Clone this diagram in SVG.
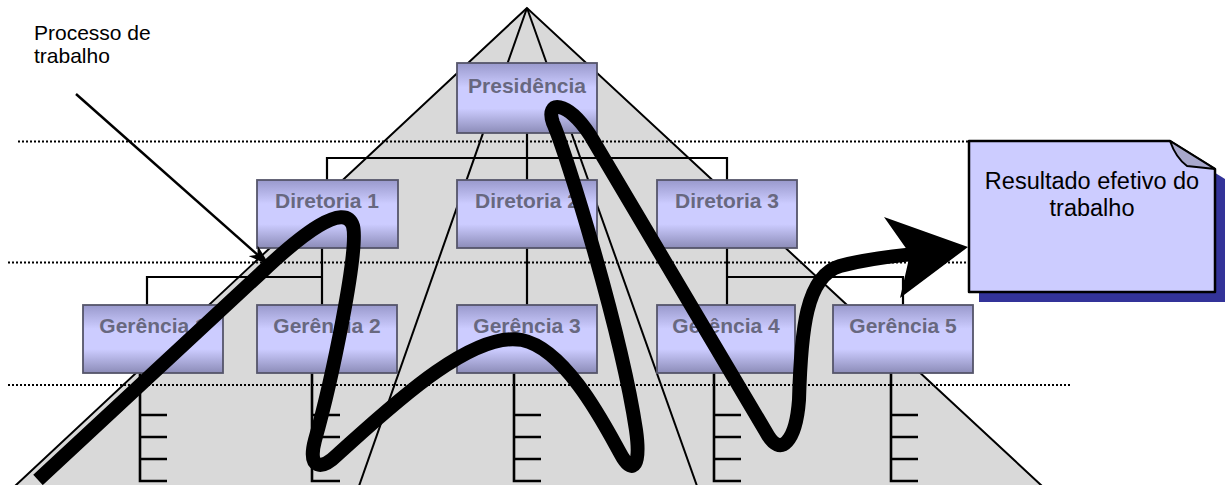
<svg xmlns="http://www.w3.org/2000/svg" width="1225" height="485" viewBox="0 0 1225 485">
  <defs>
    <linearGradient id="boxFill" x1="0" y1="0" x2="0" y2="1">
      <stop offset="0" stop-color="#9999cc"/>
      <stop offset="0.35" stop-color="#ccccff"/>
      <stop offset="0.65" stop-color="#ccccff"/>
      <stop offset="1" stop-color="#8c8cb8"/>
    </linearGradient>
    <marker id="thinHead" viewBox="0 0 22 14" refX="20" refY="7" markerWidth="22" markerHeight="14" markerUnits="userSpaceOnUse" orient="auto">
      <path d="M0,0 L22,7 L0,14 L6,7 Z" fill="#000"/>
    </marker>
    <style>
      .box { fill: url(#boxFill); stroke: #55556a; stroke-width: 1.8; }
      .lbl { font-family: "Liberation Sans", Arial, sans-serif; font-weight: bold; font-size: 21px; fill: #68687f; text-anchor: middle; }
      .conn { fill: none; stroke: #000; stroke-width: 2.2; }
      .comb { fill: none; stroke: #000; stroke-width: 2.6; }
      .dots { fill: none; stroke: #000; stroke-width: 2; stroke-dasharray: 2 2; }
      .note-txt { font-family: "Liberation Sans", Arial, sans-serif; font-size: 23.5px; fill: #000; text-anchor: middle; }
      .caption { font-family: "Liberation Sans", Arial, sans-serif; font-size: 21px; fill: #000; }
    </style>
  </defs>

  <!-- pyramid background with fan lines -->
  <g id="pyramid">
    <polygon points="527,8 15,486 1042,486" fill="#d9d9d9" stroke="#000" stroke-width="2"/>
    <line x1="527" y1="8" x2="359" y2="486" stroke="#000" stroke-width="2"/>
    <line x1="527" y1="8" x2="697" y2="486" stroke="#000" stroke-width="2"/>
  </g>

  <!-- level separators -->
  <g id="levels">
    <line class="dots" x1="18" y1="141.5" x2="969" y2="141.5"/>
    <line class="dots" x1="8" y1="262.5" x2="969" y2="262.5"/>
    <line class="dots" x1="8" y1="385" x2="1072" y2="385"/>
  </g>

  <!-- org chart connectors -->
  <g id="connectors">
    <path class="conn" d="M527,133 V158 M327,180 V158 H727 V180 M527,158 V180"/>
    <path class="conn" d="M322,248 V277 H147 V305 M322,277 V305"/>
    <path class="conn" d="M527,248 V305"/>
    <path class="conn" d="M727,248 V305 M727,277 H903 V305"/>
    <path class="comb" d="M140,373 V481 H167 M140,415 H167 M140,437 H167 M140,459 H167"/>
    <path class="comb" d="M312,373 V481 H340 M312,415 H340 M312,437 H340 M312,459 H340"/>
    <path class="comb" d="M514,373 V481 H541 M514,415 H541 M514,437 H541 M514,459 H541"/>
    <path class="comb" d="M714,373 V481 H741 M714,415 H741 M714,437 H741 M714,459 H741"/>
    <path class="comb" d="M891,373 V481 H918 M891,415 H918 M891,437 H918 M891,459 H918"/>
  </g>

  <g id="presidencia">
    <rect class="box" x="457" y="63" width="140" height="70"/>
    <text class="lbl" x="527" y="93">Presidência</text>
  </g>
  <g id="diretoria1">
    <rect class="box" x="257" y="180" width="141" height="68"/>
    <text class="lbl" x="327" y="208">Diretoria 1</text>
  </g>
  <g id="diretoria2">
    <rect class="box" x="457" y="180" width="140" height="68"/>
    <text class="lbl" x="527" y="208">Diretoria 2</text>
  </g>
  <g id="diretoria3">
    <rect class="box" x="657" y="180" width="140" height="68"/>
    <text class="lbl" x="727" y="208">Diretoria 3</text>
  </g>
  <g id="gerencia1">
    <rect class="box" x="83" y="305" width="140" height="68"/>
    <text class="lbl" x="153" y="333">Gerência 1</text>
  </g>
  <g id="gerencia2">
    <rect class="box" x="257" y="305" width="140" height="68"/>
    <text class="lbl" x="327" y="333">Gerência 2</text>
  </g>
  <g id="gerencia3">
    <rect class="box" x="457" y="305" width="140" height="68"/>
    <text class="lbl" x="527" y="333">Gerência 3</text>
  </g>
  <g id="gerencia4">
    <rect class="box" x="657" y="305" width="138" height="68"/>
    <text class="lbl" x="726" y="333">Gerência 4</text>
  </g>
  <g id="gerencia5">
    <rect class="box" x="833" y="305" width="140" height="68"/>
    <text class="lbl" x="903" y="333">Gerência 5</text>
  </g>

  <!-- actual path of the work through the hierarchy -->
  <g id="work-flow">
    <path fill="none" stroke="#000" stroke-width="14" stroke-linejoin="round"
      d="M38,480 L262,272 C300,236 345,200 353,226 C359,250 332,380 315,440 C307,470 322,470 337,455 C385,412 470,330 522,340 C570,350 612,440 623,458 C633,474 641,466 636,430 C621,330 566,152 553,123 C545,100 567,100 590,135 C630,202 720,355 766,432 C781,460 796,440 799,400 C801,330 806,276 840,266 C870,258 895,256 914,254"/>
    <polygon points="968,247 884,217 910,254 900,298" fill="#000"/>
  </g>

  <g id="resultado">
    <path d="M979,151 H1180 L1225,179 V302 H979 Z" fill="#333399"/>
    <path d="M969,141 H1170 L1215,169 V292 H969 Z" fill="#ccccff" stroke="#000" stroke-width="2.5" stroke-linejoin="round"/>
    <path d="M1170,141 Q1176,158 1187,166 L1215,169 Z" fill="#a8a8cc" stroke="#000" stroke-width="2" stroke-linejoin="round"/>
    <text class="note-txt" x="1092" y="189">Resultado efetivo do</text>
    <text class="note-txt" x="1092" y="216">trabalho</text>
  </g>

  <g id="processo">
    <text class="caption" x="34" y="40">Processo de</text>
    <text class="caption" x="34" y="63">trabalho</text>
    <line x1="76" y1="94" x2="268" y2="264" stroke="#000" stroke-width="2.5" marker-end="url(#thinHead)"/>
  </g>
</svg>
